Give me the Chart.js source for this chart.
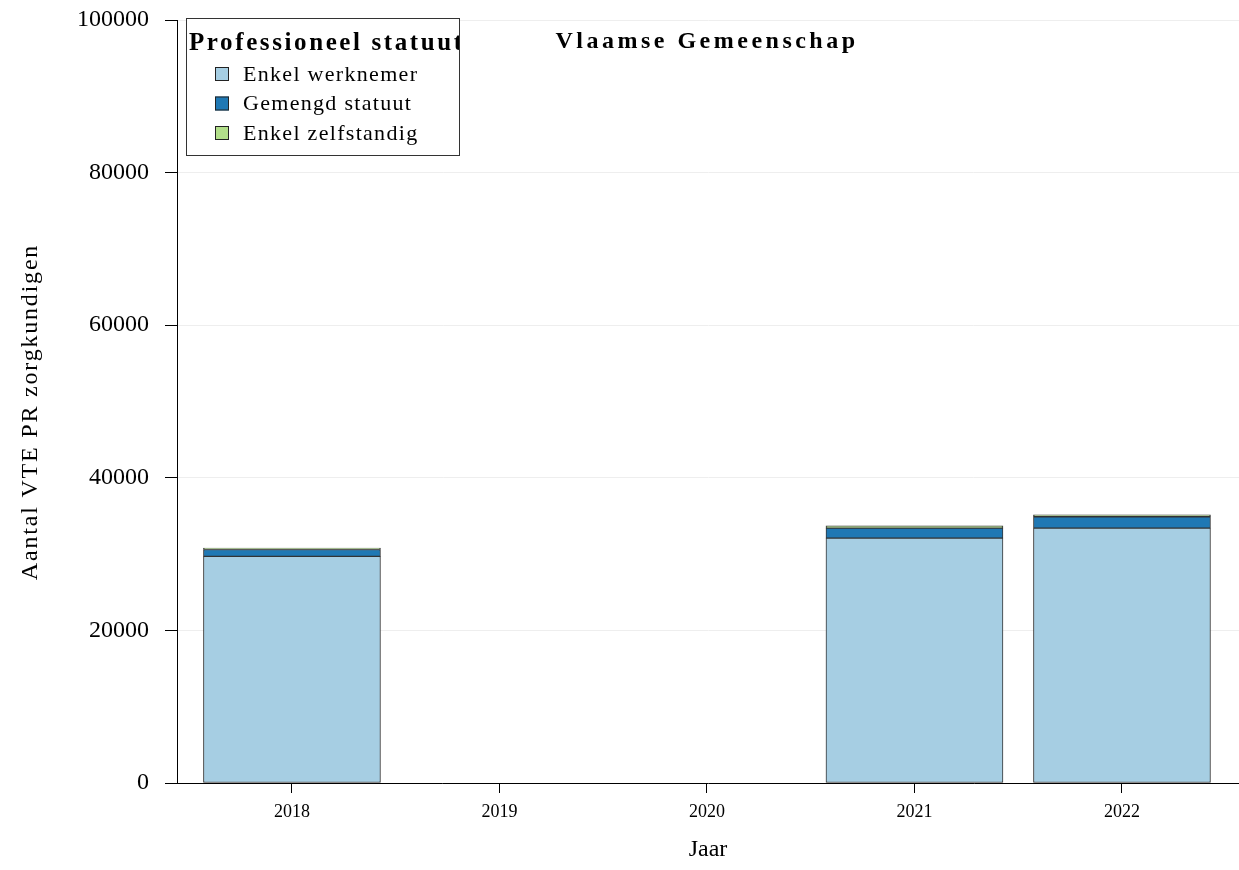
<!DOCTYPE html>
<html>
<head>
<meta charset="utf-8">
<script src="https://cdn.jsdelivr.net/npm/chart.js@4"></script>
<style>
  html, body { margin: 0; padding: 0; background: #fff; }
  #wrap { width: 1239px; height: 870px; }
</style>
</head>
<body>
<div id="wrap"><canvas id="chart" width="1239" height="870"></canvas></div>
<script>
// Data
const years = [2018, 2019, 2020, 2021, 2022];
const enkelWerknemer = [29700, null, null, 32100, 33400];
const gemengdStatuut = [900, null, null, 1300, 1500];
const enkelZelfstandig = [200, null, null, 300, 250];
const yTicks = [0, 20000, 40000, 60000, 80000, 100000];

const serif = '"Liberation Serif", "Times New Roman", serif';

function toPoints(values) {
    return years.map((yr, i) => ({ x: yr, y: values[i] }));
}

// Title, y-axis title and legend box drawn by hand (letter-spaced like the original)
const overlay = {
    id: 'overlay',
    afterDraw(chart) {
        const ctx = chart.ctx;
        ctx.save();
        ctx.fillStyle = '#000';
        ctx.textBaseline = 'middle';

        // chart title
        ctx.font = 'bold 24px ' + serif;
        ctx.letterSpacing = '3.5px';
        ctx.textAlign = 'center';
        ctx.fillText('Vlaamse Gemeenschap', 707, 42);

        // y axis title
        ctx.save();
        ctx.translate(31, 412);
        ctx.rotate(-Math.PI / 2);
        ctx.font = '24px ' + serif;
        ctx.letterSpacing = '1.8px';
        ctx.fillText('Aantal VTE PR zorgkundigen', 0, 0);
        ctx.restore();

        // legend box
        const bx = 186, by = 18, bw = 273, bh = 137;
        ctx.fillStyle = '#fff';
        ctx.fillRect(bx, by, bw, bh);
        ctx.strokeStyle = '#333';
        ctx.lineWidth = 1;
        ctx.strokeRect(bx + 0.5, by + 0.5, bw, bh);
        ctx.save();
        ctx.beginPath();
        ctx.rect(bx, by, bw, bh);
        ctx.clip();
        ctx.fillStyle = '#000';
        ctx.textAlign = 'left';
        ctx.font = 'bold 25px ' + serif;
        ctx.letterSpacing = '2.6px';
        ctx.fillText('Professioneel statuut', bx + 3, 44);
        ctx.restore();

        ctx.font = '22px ' + serif;
        ctx.letterSpacing = '1.3px';
        ctx.textAlign = 'left';
        chart.data.datasets.forEach((ds, i) => {
            const cy = 74 + i * 29.5;
            ctx.fillStyle = ds.backgroundColor;
            ctx.fillRect(215, cy - 7, 14, 14);
            ctx.strokeStyle = '#222';
            ctx.strokeRect(215.5, cy - 6.5, 13, 13);
            ctx.fillStyle = '#000';
            ctx.fillText(ds.label, 243, cy + 1);
        });
        ctx.restore();
    }
};

new Chart(document.getElementById('chart').getContext('2d'), {
    type: 'bar',
    data: {
        datasets: [
            { label: 'Enkel werknemer', data: toPoints(enkelWerknemer), backgroundColor: '#a6cee3' },
            { label: 'Gemengd statuut', data: toPoints(gemengdStatuut), backgroundColor: '#1f78b4' },
            { label: 'Enkel zelfstandig', data: toPoints(enkelZelfstandig), backgroundColor: '#b2df8a' }
        ]
    },
    options: {
        responsive: false,
        animation: false,
        layout: { autoPadding: false, padding: { top: 20, left: 0, right: 0, bottom: 0 } },
        datasets: {
            bar: { barThickness: 177, borderColor: '#333', borderWidth: 1, borderSkipped: false }
        },
        plugins: {
            legend: { display: false },
            title: { display: false },
            tooltip: { enabled: false }
        },
        scales: {
            x: {
                type: 'linear',
                stacked: true,
                offset: false,
                min: 2017.446,
                max: 2022.564,
                afterBuildTicks: scale => { scale.ticks = years.map(v => ({ value: v })); },
                afterFit: scale => { scale.height = 87; scale.paddingLeft = 0; scale.paddingRight = 0; },
                ticks: {
                    callback: v => String(v),
                    color: '#000',
                    font: { family: serif, size: 18 },
                    padding: 8,
                    maxRotation: 0
                },
                grid: { offset: false, drawOnChartArea: false, drawTicks: true, tickLength: 10, tickColor: '#000' },
                border: { display: true, color: '#000', width: 1 },
                title: {
                    display: true,
                    text: 'Jaar',
                    color: '#000',
                    font: { family: serif, size: 24 },
                    padding: { top: 0, bottom: 6 }
                }
            },
            y: {
                stacked: true,
                min: 0,
                max: 100000,
                afterBuildTicks: scale => { scale.ticks = yTicks.map(v => ({ value: v })); },
                afterFit: scale => { scale.width = 177; scale.paddingTop = 0; scale.paddingBottom = 0; },
                ticks: {
                    callback: v => String(v),
                    color: '#000',
                    font: { family: serif, size: 24 },
                    padding: 16
                },
                grid: { color: '#eeeeee', tickColor: '#000', tickLength: 12 },
                border: { display: true, color: '#000', width: 1 },
                title: { display: false }
            }
        }
    },
    plugins: [overlay]
});
</script>
</body>
</html>
